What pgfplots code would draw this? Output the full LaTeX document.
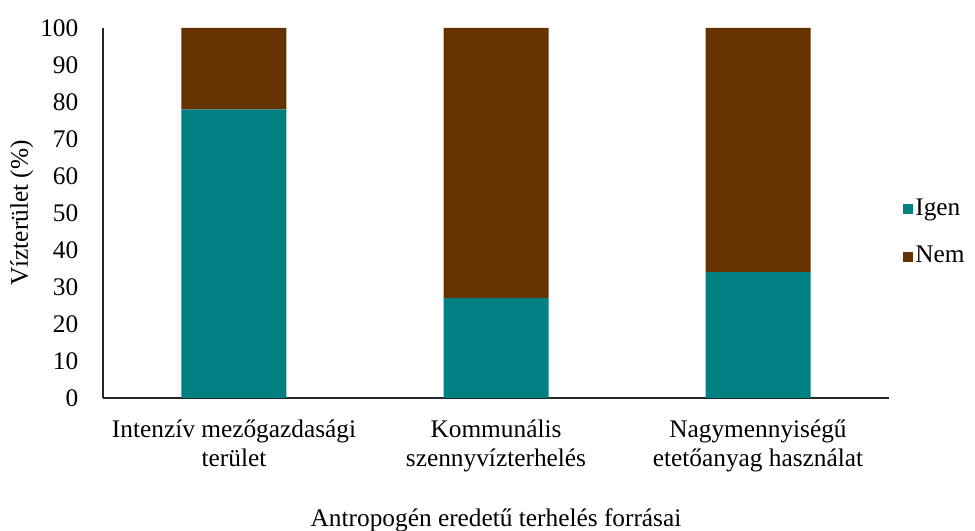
\documentclass[border=0pt]{standalone}
\usepackage{pgfplots}
\pgfplotsset{compat=1.18}
\usepackage{fontspec}
\setmainfont{Liberation Serif}
\definecolor{igen}{HTML}{008080}
\definecolor{nem}{HTML}{663300}
\begin{document}
\fontsize{19}{22}\selectfont
\begin{tikzpicture}
\path[use as bounding box] (-77.25pt,-99.75pt) rectangle (654pt,298.5pt);
\begin{axis}[
  at={(0,0)}, anchor=south west,
  scale only axis,
  width=589.5pt, height=277.5pt,
  ybar stacked,
  bar width=78.75pt,
  xmin=-0.5, xmax=2.5,
  ymin=0, ymax=100,
  ytick={0,10,...,100},
  xtick=data,
  xticklabels={{Intenzív mezőgazdasági\\terület},{Kommunális\\szennyvízterhelés},{Nagymennyiségű\\etetőanyag használat}},
  xticklabel style={align=center, font=\fontsize{19}{22}\selectfont},
  x tick label style={yshift=-10pt},
  yticklabel style={font=\fontsize{19}{22}\selectfont, xshift=-12pt},
  major tick length=0pt,
  axis x line*=bottom,
  axis y line*=left,
  axis line style={black!85, line width=0.8pt},
  /pgf/number format/assume math mode=true,
  ylabel={Vízterület (\%)},
  every axis y label/.style={at={(axis description cs:-0.1035,0.5)}, rotate=90, anchor=center, font=\fontsize{19}{22}\selectfont},
  xlabel={Antropogén eredetű terhelés forrásai},
  every axis x label/.style={at={(axis description cs:0.5,0)}, anchor=center, yshift=-92pt, font=\fontsize{19}{22}\selectfont},
  legend style={draw=none, fill=none, at={(1.012,0.446)}, anchor=west, font=\fontsize{19}{22}\selectfont, row sep=16pt},
  legend cell align=left,
  legend image code/.code={\fill[#1] (0pt,-3.75pt) rectangle (7.5pt,3.75pt);},
]
\addplot[fill=igen, draw=none] coordinates {(0,78) (1,27) (2,34)};
\addplot[fill=nem, draw=none] coordinates {(0,22) (1,73) (2,66)};
\legend{Igen,Nem}
\end{axis}
\end{tikzpicture}
\end{document}
